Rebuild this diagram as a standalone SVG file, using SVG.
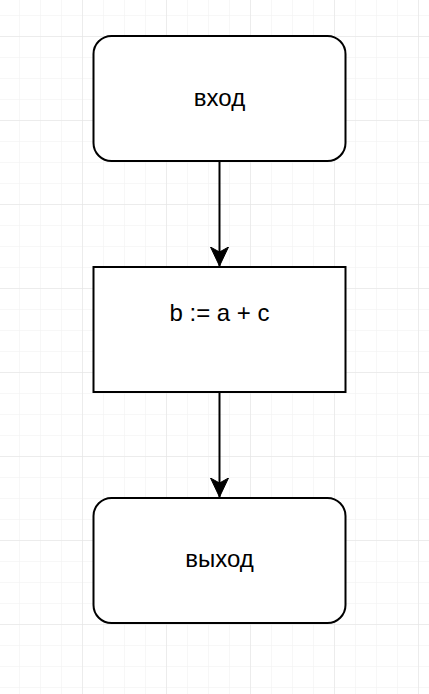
<svg xmlns="http://www.w3.org/2000/svg" width="429" height="694" viewBox="0 0 429 694">
  <defs>
    <pattern id="minor" x="-2" y="-48" width="21" height="21" patternUnits="userSpaceOnUse">
      <path d="M 0 0 L 21 0 M 0 0 L 0 21" fill="none" stroke="#f0f0f0" stroke-width="1"/>
    </pattern>
    <pattern id="major" x="-2" y="-48" width="84" height="84" patternUnits="userSpaceOnUse">
      <path d="M 0 0 L 84 0 M 0 0 L 0 84" fill="none" stroke="#e2e2e2" stroke-width="1"/>
    </pattern>
    <marker id="arrow" markerWidth="20" markerHeight="20" viewBox="0 0 20 20" refX="19" refY="10" orient="auto" markerUnits="userSpaceOnUse">
      <path d="M 0 1 L 19 10 L 0 19 L 5 10 Z" fill="#000" stroke="#000" stroke-width="1" stroke-linejoin="miter"/>
    </marker>
    <style>
      .box { fill: #ffffff; stroke: #000000; stroke-width: 2; }
      .label { font-family: "Liberation Sans", Arial, Helvetica, sans-serif; font-size: 24px; fill: #000000; text-anchor: middle; }
      .edge { fill: none; stroke: #000000; stroke-width: 2; }
    </style>
  </defs>
  <rect x="0" y="0" width="429" height="694" fill="#ffffff"/>
  <rect x="0" y="0" width="429" height="694" fill="url(#minor)"/>
  <rect x="0" y="0" width="429" height="694" fill="url(#major)"/>

  <g id="connectors">
    <path class="edge" d="M 219.5 161 L 219.5 266" marker-end="url(#arrow)"/>
    <path class="edge" d="M 219.5 392 L 219.5 497" marker-end="url(#arrow)"/>
  </g>

  <g id="node-input">
    <rect class="box" x="93.5" y="36" width="252" height="125" rx="18" ry="18"/>
    <text class="label" x="219.5" y="106">вход</text>
  </g>

  <g id="node-assign">
    <rect class="box" x="93.5" y="267" width="252" height="125"/>
    <text class="label" x="219.5" y="321">b := a + c</text>
  </g>

  <g id="node-output">
    <rect class="box" x="93.5" y="498" width="252" height="125" rx="18" ry="18"/>
    <text class="label" x="219.5" y="567">выход</text>
  </g>
</svg>
